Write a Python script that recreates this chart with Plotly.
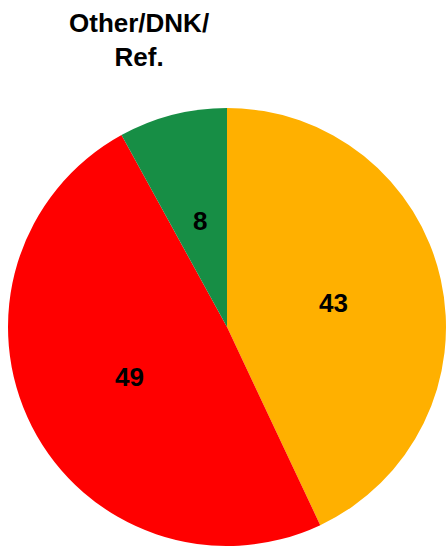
import math
import plotly.graph_objects as go

categories = ["Yes", "No", "Other/DNK/Ref."]
values = [43, 49, 8]
colors = ["#FFB000", "#FF0000", "#178E45"]
title_label = "Other/DNK/<br>Ref."

W, H = 446, 546
dom_x = [8 / W, 1.0]
dom_y = [0.0, 1 - 108 / H]

fig = go.Figure(go.Pie(
    labels=categories, values=values, sort=False, direction="clockwise",
    rotation=0, marker=dict(colors=colors, line=dict(width=0)),
    textinfo="none", showlegend=False, domain=dict(x=dom_x, y=dom_y),
    hoverinfo="label+value",
))

font = dict(family="Arial, Liberation Sans", size=26, color="black")

# Value labels at half radius along each slice's mid angle
cx = (dom_x[0] + dom_x[1]) / 2 * W
cy = (1 - (dom_y[0] + dom_y[1]) / 2) * H
r = min((dom_x[1] - dom_x[0]) * W, (dom_y[1] - dom_y[0]) * H) / 2
total = sum(values)
cum = 0
for v in values:
    mid = (cum + v / 2) / total * 2 * math.pi
    cum += v
    px = cx + 0.5 * r * math.sin(mid)
    py = cy - 0.5 * r * math.cos(mid)
    fig.add_annotation(x=px / W, y=1 - py / H, xref="paper", yref="paper",
                       xanchor="center", yanchor="middle",
                       text=f"<b>{v}</b>", showarrow=False, font=font)

fig.add_annotation(x=139 / W, y=1 - 40 / H, xref="paper", yref="paper",
                   xanchor="center", yanchor="middle",
                   text=f"<b>{title_label}</b>", showarrow=False, align="center",
                   font=font)

fig.update_layout(width=W, height=H, margin=dict(l=0, r=0, t=0, b=0),
                  paper_bgcolor="white", plot_bgcolor="white")
fig.write_html(
    "out.html",
    config={"displayModeBar": False},
    post_script="document.body.style.margin='0';document.body.style.overflow='hidden';",
)
